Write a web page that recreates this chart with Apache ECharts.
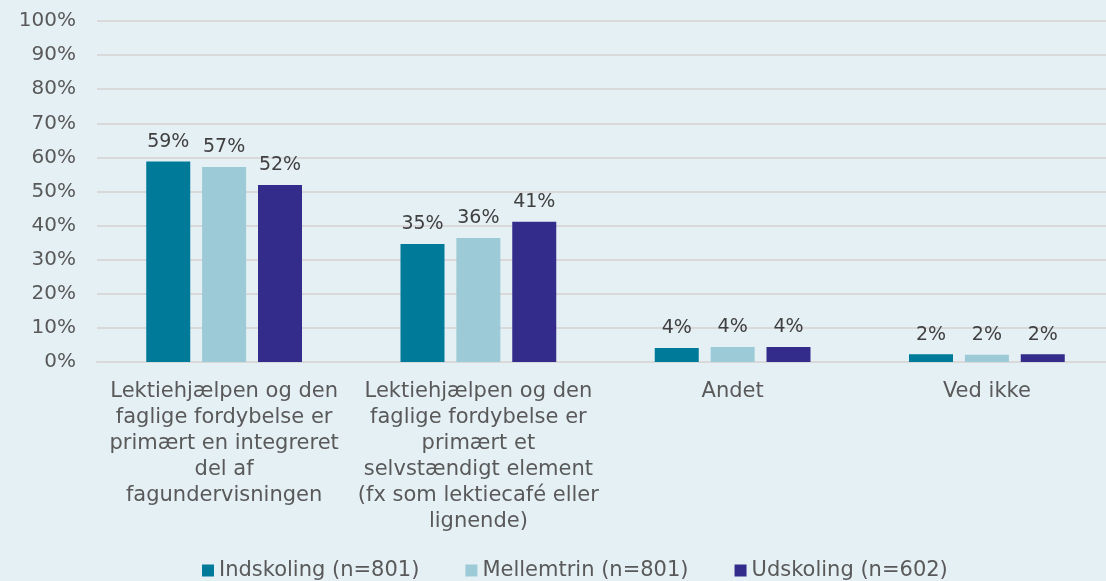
<!DOCTYPE html>
<html>
<head>
	<meta charset="UTF-8">
	<title></title>
	<script type="text/javascript" src="https://cdn.jsdelivr.net/npm/echarts@6/dist/echarts.min.js"></script>
	<style>
		html, body { margin:0; padding:0; background:#e5f0f5; }
		#chart { width:1106px; height:581px; }
	</style>
</head>
<body>
<div id="chart"></div>
<script>
	// data
	var categories = [
		'Lektiehjælpen og den\nfaglige fordybelse er\nprimært en integreret\ndel af\nfagundervisningen',
		'Lektiehjælpen og den\nfaglige fordybelse er\nprimært et\nselvstændigt element\n(fx som lektiecafé eller\nlignende)',
		'Andet',
		'Ved ikke'
	];
	var seriesNames = ['Indskoling (n=801)', 'Mellemtrin (n=801)', 'Udskoling (n=602)'];
	var indskoling = [58.8, 34.6, 4.1, 2.3];
	var mellemtrin = [57.2, 36.4, 4.4, 2.1];
	var udskoling = [51.9, 41.1, 4.4, 2.3];
	var colors = ['#007a99', '#9ccad6', '#332c8a'];

	var font = 'DejaVu Sans, Verdana, sans-serif';

	var myChart = echarts.init(document.getElementById('chart'));

	function barSeries(name, data) {
		return {
			name: name,
			type: 'bar',
			data: data,
			barWidth: 44,
			barGap: '27%',
			label: {
				show: true,
				position: 'top',
				distance: 10,
				color: '#404040',
				fontFamily: font,
				fontSize: 19,
				formatter: function (p) { return Math.round(p.value) + '%'; }
			}
		};
	}

	var option = {
		backgroundColor: '#e5f0f5',
		color: colors,
		animation: false,
		// plot area runs a little past the right edge, like the original
		grid: { left: 97, width: 1017, top: 21, height: 341, outerBoundsMode: 'none' },
		legend: {
			left: 197,
			top: 555,
			itemWidth: 12,
			itemHeight: 12,
			itemGap: 46,
			itemStyle: { borderWidth: 0 },
			icon: 'rect',
			textStyle: { color: '#595959', fontFamily: font, fontSize: 21 },
			data: seriesNames
		},
		xAxis: {
			type: 'category',
			data: categories,
			axisLine: { lineStyle: { color: '#d9d9d9', width: 2 } },
			axisTick: { show: false },
			axisLabel: {
				color: '#595959',
				fontFamily: font,
				fontSize: 21,
				lineHeight: 26,
				margin: 17,
				interval: 0
			}
		},
		yAxis: {
			type: 'value',
			min: 0,
			max: 100,
			interval: 10,
			axisLine: { show: false },
			axisTick: { show: false },
			splitLine: { lineStyle: { color: '#d9d9d9', width: 2 } },
			axisLabel: {
				formatter: '{value}%',
				color: '#595959',
				fontFamily: font,
				fontSize: 20,
				margin: 21
			}
		},
		series: [
			barSeries(seriesNames[0], indskoling),
			barSeries(seriesNames[1], mellemtrin),
			barSeries(seriesNames[2], udskoling)
		]
	};

	myChart.setOption(option);
	window.addEventListener('resize', function () {
		myChart.resize();
	});
</script>
</body>
</html>
